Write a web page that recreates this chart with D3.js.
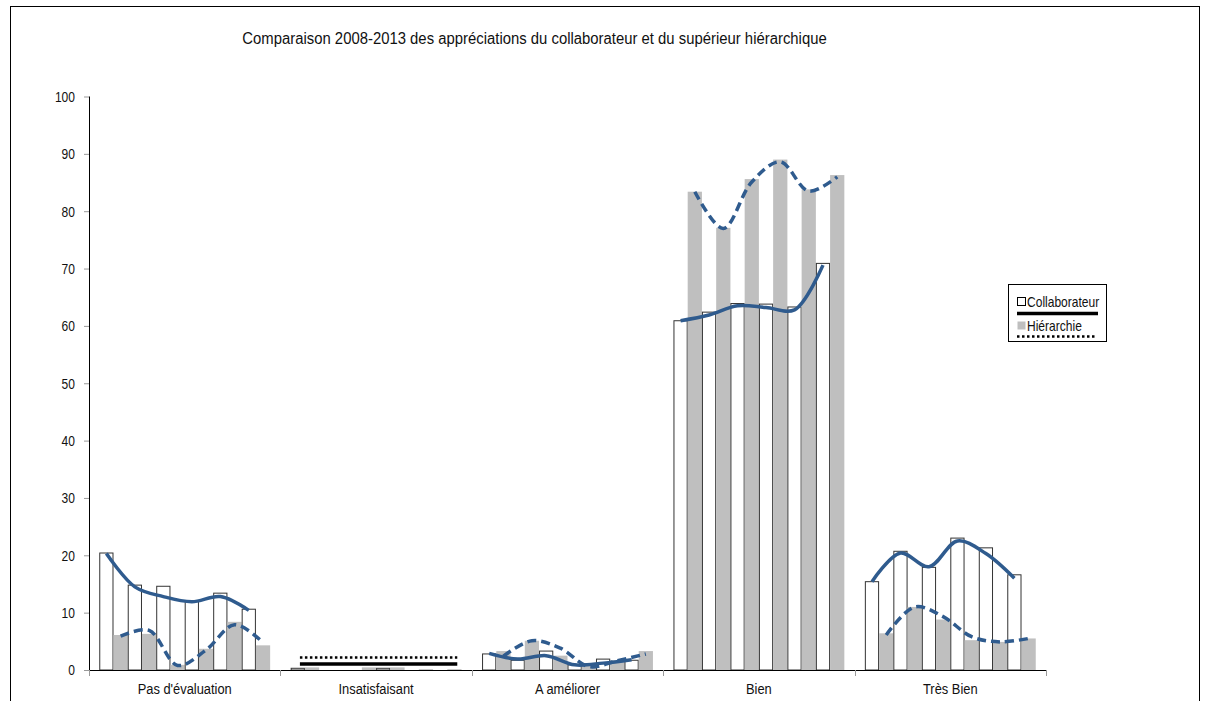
<!DOCTYPE html>
<html>
<head>
<meta charset="utf-8">
<script src="https://cdn.jsdelivr.net/npm/d3@7"></script>
<style>
  html, body { margin: 0; padding: 0; background: #fff; }
  svg { display: block; }
  text { font-family: "Liberation Sans", Arial, Helvetica, sans-serif; fill: #111; }
</style>
</head>
<body>
<svg id="chart" width="1211" height="701"></svg>
<script>
// ---------------- DATA ----------------
const title = "Comparaison 2008-2013 des appréciations du collaborateur et du supérieur hiérarchique";
const categories = ["Pas d'évaluation", "Insatisfaisant", "A améliorer", "Bien", "Très Bien"];
const years = ["2008", "2009", "2010", "2011", "2012", "2013"];
const seriesNames = ["Collaborateur", "Hiérarchie"];
const yTicks = [0, 10, 20, 30, 40, 50, 60, 70, 80, 90, 100];

// bar values (%), one row per category, one value per year
const collaborateur = [
  [20.4, 14.8, 14.6, 12.1, 13.4, 10.6],
  [0.3, 0, 0, 0.3, 0, 0],
  [2.8, 1.7, 3.3, 0.9, 1.9, 1.7],
  [60.9, 62.4, 63.9, 63.8, 63.3, 70.9],
  [15.4, 20.7, 17.9, 23.0, 21.3, 16.6]
];
const hierarchie = [
  [6.1, 6.3, 0.9, 3.7, 8.4, 4.3],
  [0.45, 0, 0.45, 0.45, 0.15, 0.15],
  [3.3, 5.1, 2.5, 1.2, 1.7, 3.3],
  [83.4, 77.1, 85.6, 89.0, 83.8, 86.3],
  [6.4, 11.0, 8.8, 5.2, 4.9, 5.5]
];

// smoothed trend curves drawn over the bars (null = drawn as flat line)
const collabTrend = [
  [20.3, 14.5, 12.8, 11.9, 12.8, 10.4],
  null,
  [2.9, 1.9, 2.5, 0.9, 1.2, 1.8],
  [60.9, 61.9, 63.5, 63.2, 62.8, 70.6],
  [15.4, 20.4, 18.0, 22.5, 20.3, 16.0]
];
const hierTrend = [
  [5.9, 6.9, 0.8, 3.5, 7.9, 4.8],
  null,
  [2.4, 5.1, 3.8, 0.6, 1.6, 2.8],
  [83.4, 77.0, 85.1, 88.6, 83.5, 86.0],
  [6.1, 11.0, 9.3, 5.8, 4.9, 5.5]
];
// flat lines in "Insatisfaisant"
const flatCategory = "Insatisfaisant";
const flatCollabLevel = 1.05;
const flatHierLevel = 2.2;
const flatSpanSlots = [0.15, 11.2];

// ---------------- DRAW ----------------
const svg = d3.select("#chart");
const blue = "#2f5b8e";
const COND = 0.86; // condensed face emulation

function condense(sel, f) {
  sel.each(function () {
    const t = d3.select(this);
    const x = +t.attr("x") || 0, yv = +t.attr("y") || 0;
    t.attr("x", 0).attr("y", 0).attr("transform", `translate(${x},${yv}) scale(${f},1)`);
  });
}

// frame
svg.append("rect").attr("x", 10.5).attr("y", 6.5).attr("width", 1189).attr("height", 720)
  .attr("fill", "none").attr("stroke", "#000").attr("stroke-width", 1);

const plot = { left: 89, right: 1046, top: 96.5, bottom: 670 };

const y = d3.scaleLinear().domain([0, 100]).range([plot.bottom, plot.top]);
const x0 = d3.scaleBand().domain(categories).range([plot.left, plot.right]).padding(0);

const slots = [];
years.forEach(yr => seriesNames.forEach(s => slots.push(s + "|" + yr)));
const x1 = d3.scaleBand().domain(slots).range([0, x0.bandwidth()]).paddingInner(0).paddingOuter(0.72);
const slotCenter = i => x1(slots[0]) + x1.step() * i + x1.bandwidth() / 2;

// title
svg.append("text").attr("x", 534.5).attr("y", 44).attr("text-anchor", "middle")
  .style("font-size", "17.3px").text(title).call(condense, COND);

// bars
const g = svg.append("g");
categories.forEach((cat, ci) => {
  years.forEach((yr, yi) => {
    const vc = collaborateur[ci][yi];
    const vh = hierarchie[ci][yi];
    g.append("rect")
      .attr("x", x0(cat) + x1("Collaborateur|" + yr) + 0.5)
      .attr("y", y(vc))
      .attr("width", x1.bandwidth() - 1)
      .attr("height", y(0) - y(vc))
      .attr("fill", "#fff").attr("stroke", vc > 0 ? "#333" : "none").attr("stroke-width", 1);
    g.append("rect")
      .attr("x", x0(cat) + x1("Hiérarchie|" + yr))
      .attr("y", y(vh))
      .attr("width", x1.bandwidth())
      .attr("height", y(0) - y(vh))
      .attr("fill", "#bfbfbf");
  });
});

// axes
const yAxis = d3.axisLeft(y).tickValues(yTicks).tickSize(5).tickPadding(9);
const ya = svg.append("g").attr("transform", `translate(${plot.left},0)`).call(yAxis);
ya.select(".domain").attr("stroke", "#000").attr("d", `M0.5,${plot.top}V${plot.bottom}`);
ya.selectAll(".tick line").attr("stroke", "#999");
ya.selectAll(".tick text").style("font-size", "14px").attr("fill", "#111")
  .style("font-family", "'Liberation Sans', Arial, sans-serif")
  .attr("dy", null).attr("dominant-baseline", "central")
  .call(condense, COND);

const xa = svg.append("g").attr("transform", `translate(0,${plot.bottom})`);
xa.append("line").attr("x1", plot.left).attr("x2", plot.right).attr("y1", 0.5).attr("y2", 0.5)
  .attr("stroke", "#000");
const bounds = categories.map(c => x0(c)).concat([plot.right]);
xa.selectAll("line.tk").data(bounds).enter().append("line").attr("class", "tk")
  .attr("x1", d => Math.round(d) + 0.5).attr("x2", d => Math.round(d) + 0.5)
  .attr("y1", 0).attr("y2", 6).attr("stroke", "#999");
xa.selectAll("text.cat").data(categories).enter().append("text").attr("class", "cat")
  .attr("x", d => x0(d) + x0.bandwidth() / 2).attr("y", 24).attr("text-anchor", "middle")
  .style("font-size", "15px").text(d => d).call(condense, COND);

// trend curves
const line = d3.line().curve(d3.curveCatmullRom.alpha(0.5));
categories.forEach((cat, ci) => {
  if (collabTrend[ci]) {
    const pts = collabTrend[ci].map((v, i) => [x0(cat) + slotCenter(i * 2), y(v)]);
    svg.append("path").attr("d", line(pts)).attr("fill", "none").attr("stroke", blue)
      .attr("stroke-width", 3.5).attr("stroke-linecap", "butt");
  }
  if (hierTrend[ci]) {
    const pts = hierTrend[ci].map((v, i) => [x0(cat) + slotCenter(i * 2 + 1), y(v)]);
    svg.append("path").attr("d", line(pts)).attr("fill", "none").attr("stroke", blue)
      .attr("stroke-width", 3.5).attr("stroke-dasharray", "9,5");
  }
});
// flat lines
{
  const cx = x0(flatCategory);
  const xa0 = cx + slotCenter(flatSpanSlots[0]);
  const xa1 = cx + slotCenter(flatSpanSlots[1]);
  svg.append("line").attr("x1", xa0).attr("x2", xa1).attr("y1", y(flatHierLevel)).attr("y2", y(flatHierLevel))
    .attr("stroke", "#000").attr("stroke-width", 2.5).attr("stroke-dasharray", "2.5,2.5");
  svg.append("line").attr("x1", xa0).attr("x2", xa1).attr("y1", y(flatCollabLevel)).attr("y2", y(flatCollabLevel))
    .attr("stroke", "#000").attr("stroke-width", 3.5);
}

// legend
const lg = svg.append("g").attr("transform", "translate(1008,284)");
lg.append("rect").attr("x", 0.5).attr("y", 0.5).attr("width", 98).attr("height", 57)
  .attr("fill", "#fff").attr("stroke", "#000");
const legendRowY = [14, 38];
const legendLineY = [29.5, 52.5];
seriesNames.forEach((s, i) => {
  const yy = legendRowY[i];
  lg.append("rect").attr("x", 9.5).attr("y", yy - 0.5).attr("width", 8).attr("height", 8)
    .attr("fill", i === 0 ? "#fff" : "#bfbfbf").attr("stroke", i === 0 ? "#000" : "none");
  lg.append("text").attr("x", 19).attr("y", yy + 9).style("font-size", "14px").text(s)
    .call(condense, COND);
  lg.append("line").attr("x1", 9).attr("x2", i === 0 ? 90 : 88)
    .attr("y1", legendLineY[i]).attr("y2", legendLineY[i])
    .attr("stroke", "#000").attr("stroke-width", i === 0 ? 3.5 : 2.5)
    .attr("stroke-dasharray", i === 0 ? null : "2.5,2.5");
});
</script>
</body>
</html>
